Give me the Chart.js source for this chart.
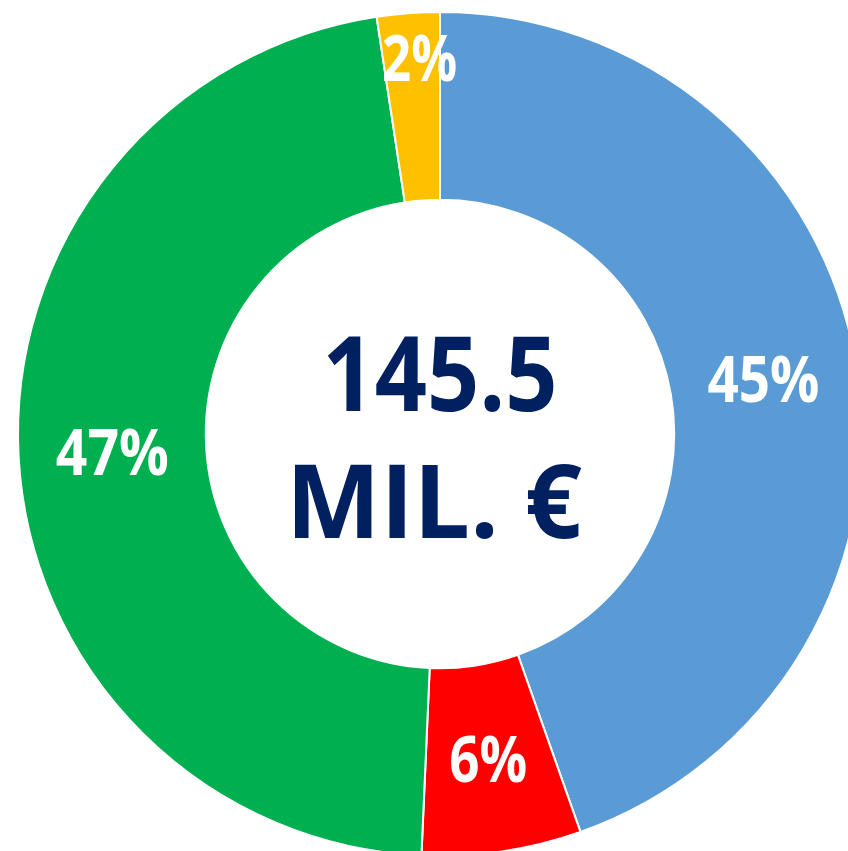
<!DOCTYPE html>
<html>
<head>
<meta charset="utf-8">
<script src="https://cdn.jsdelivr.net/npm/chart.js@4.4.1/dist/chart.umd.min.js"></script>
<style>
    html, body { margin: 0; padding: 0; background: #fff; overflow: hidden; }
    #wrap { position: absolute; left: 0; top: 0; width: 880px; height: 868px; }
</style>
</head>
<body>
<div id="wrap"><canvas id="donut" width="880" height="868"></canvas></div>
<script>
// Shares of the total, clockwise from 12 o'clock
const categories = ['Blue', 'Red', 'Green', 'Yellow'];
const shares = [44.6, 6.1, 46.9, 2.4];
const shareLabels = ['45%', '6%', '47%', '2%'];
const sliceColors = ['#5B9BD5', '#FF0000', '#00B050', '#FFC000'];
const centerLines = ['145.5', 'MIL. €'];

const FONT = '"Open Sans", Lato, sans-serif';

// draws text so that it fills a given width (Gill Sans is narrower than what we have)
function fitText(ctx, text, cx, baseline, size, width) {
    ctx.font = 'bold ' + size + 'px ' + FONT;
    const w = ctx.measureText(text).width;
    const sx = width ? width / w : 1;
    ctx.save();
    ctx.translate(cx, baseline);
    ctx.scale(sx, 1);
    ctx.textAlign = 'center';
    ctx.textBaseline = 'alphabetic';
    ctx.fillText(text, 0, 0);
    ctx.restore();
}

const sliceLabels = {
    id: 'sliceLabels',
    afterDatasetsDraw(chart, args, opts) {
        const ctx = chart.ctx;
        const meta = chart.getDatasetMeta(0);
        ctx.fillStyle = '#FFFFFF';
        meta.data.forEach((arc, i) => {
            const p = arc.getProps(['x', 'y', 'startAngle', 'endAngle', 'innerRadius', 'outerRadius'], true);
            const mid = (p.startAngle + p.endAngle) / 2;
            const r = p.innerRadius + (p.outerRadius - p.innerRadius) * opts.radial[i];
            const x = p.x + Math.cos(mid) * r + opts.nudge[i];
            const y = p.y + Math.sin(mid) * r;
            fitText(ctx, shareLabels[i], x, y + 23, 64, opts.widths[i]);
        });

        // total in the hole
        const c = meta.data[0];
        ctx.fillStyle = '#002060';
        fitText(ctx, centerLines[0], c.x, 411, 104, 235);
        fitText(ctx, centerLines[1], c.x - 6, 538, 102, 296);
    }
};

new Chart(document.getElementById('donut'), {
    type: 'doughnut',
    data: {
        labels: categories,
        datasets: [{
            data: shares,
            backgroundColor: sliceColors,
            borderColor: '#FFFFFF',
            borderWidth: 2,
            hoverOffset: 0
        }]
    },
    options: {
        responsive: false,
        animation: false,
        radius: 422,
        cutout: '55.5%',
        layout: { padding: 0 },
        plugins: {
            legend: { display: false },
            tooltip: { enabled: false },
            sliceLabels: {
                radial: [0.5, 0.5, 0.5, 0.76],
                nudge: [0, 0, 0, 8],
                widths: [112, 78, 113, 75]
            }
        }
    },
    plugins: [sliceLabels]
});
</script>
</body>
</html>
